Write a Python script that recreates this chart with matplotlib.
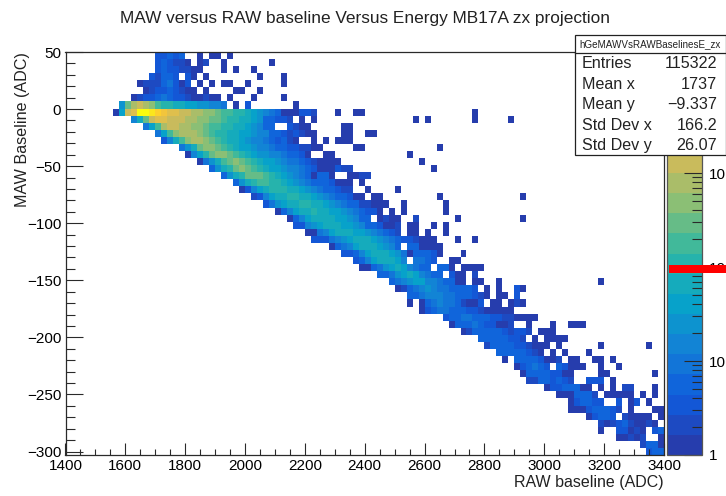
import numpy as np
import matplotlib
matplotlib.use('Agg')
import matplotlib.pyplot as plt
from matplotlib.colors import LinearSegmentedColormap, LogNorm
from matplotlib.lines import Line2D
from matplotlib.patches import Rectangle
from matplotlib.ticker import MultipleLocator, FixedLocator, NullFormatter

plt.rcParams['font.family'] = ['Liberation Sans', 'DejaVu Sans']

# --- Dados ---
TITULO = "MAW versus RAW baseline Versus Energy MB17A zx projection"
NOME_HIST = "hGeMAWVsRAWBaselinesE_zx"
STATS_NOMES = ["Entries", "Mean x", "Mean y", "Std Dev x", "Std Dev y"]
STATS_VALORES = ["115322", "1737", "\u22129.337", "166.2", "26.07"]

N_X = 100
N_Y = 57
X_MIN, X_MAX = 1400, 3400
Y_MIN, Y_MAX = -303, 50
Z_MIN, Z_MAX = 1, 19400

# contagem tipica de cada codigo (0-9, a-j): um nivel da paleta por codigo
CODIGOS = "0123456789abcdefghij"
CONTAGENS = [1, 2, 3, 6, 9, 15, 25, 40, 65, 110, 180, 300, 480, 800, 1300, 2100, 3400, 5600, 9200, 15000]

# uma lista por linha do histograma (de cima para baixo): (bin x inicial, codigos)
LINHAS = [
    [(15, '22323'), (22, '0'), (24, '00'), (27, '0')],
    [(15, '232110'), (22, '01'), (26, '0'), (34, '0')],
    [(15, '2322110'), (22, '0'), (26, '0'), (28, '0'), (31, '0')],
    [(14, '21332'), (20, '20'), (23, '0'), (32, '0'), (36, '0')],
    [(12, '0111342'), (19, '02'), (22, '0'), (24, '0'), (26, '00'), (30, '0'), (36, '0')],
    [(13, '0122321'), (20, '00'), (23, '0'), (28, '00'), (32, '0')],
    [(11, '012234322100100'), (27, '0'), (31, '0'), (36, '0')],
    [(9, '6bdedca99887766554'), (28, '0'), (30, '2'), (38, '0')],
    [(8, '07efjjihgffeeddccbaa99876543000221'), (45, '0'), (48, '00'), (68, '0')],
    [(11, '58beffeeeddccbba99887633221'), (39, '0'), (41, '0'), (58, '0'), (60, '0'), (68, '0'), (74, '0')],
    [(13, '47adeeddccbaa998876533'), (37, '2100'), (46, '00')],
    [(15, '47acdddcba99887765533212100'), (46, '00'), (50, '00')],
    [(16, '258acddcba9887655432310'), (41, '0'), (43, '0'), (45, '000')],
    [(19, '468bccba9877655433221100'), (48, '00'), (62, '0')],
    [(20, '0579bccba987665543320'), (43, '00'), (57, '0')],
    [(22, '0468abcba987765443210000'), (59, '0')],
    [(24, '3689bcba9877655432000211'), (61, '0')],
    [(26, '3689bbba98765430330'), (47, '0011')],
    [(28, '3689aa99876543332000'), (49, '0')],
    [(29, '0257899988765433211'), (50, '0'), (55, '0')],
    [(31, '1257889988765433200'), (51, '00'), (62, '0'), (76, '0')],
    [(33, '246788998876543311000'), (56, '0'), (63, '0')],
    [(35, '035788988776543220'), (54, '0'), (56, '0'), (63, '0')],
    [(37, '03578888776533'), (52, '0100'), (58, '1'), (65, '0'), (76, '0')],
    [(38, '225678887765332001'), (57, '00'), (61, '0'), (63, '0')],
    [(40, '0045788877654321'), (57, '00'), (60, '0'), (63, '0')],
    [(41, '222456788876543221000'), (65, '0'), (68, '0')],
    [(44, '034578887653'), (57, '330000')],
    [(46, '22357888764033320'), (66, '0')],
    [(48, '235788875'), (58, '4432'), (64, '00')],
    [(49, '003467875433'), (62, '330'), (66, '0000')],
    [(52, '33467875433'), (64, '200'), (68, '1')],
    [(54, '3456775543300'), (68, '00'), (72, '0'), (89, '0')],
    [(55, '01345654433332'), (70, '0'), (72, '0'), (75, '20')],
    [(57, '33455544333210'), (72, '00'), (75, '2')],
    [(57, '0'), (59, '03454431002'), (71, '00'), (74, '010')],
    [(59, '0234433322100000')],
    [(63, '2334433322110000')],
    [(64, '03334322001'), (77, '0'), (81, '0'), (84, '000')],
    [(66, '013333321221'), (79, '000')],
    [(69, '33333221'), (78, '0'), (80, '0000')],
    [(70, '13333221000'), (82, '0'), (89, '0'), (97, '0')],
    [(72, '33333210'), (81, '0'), (83, '0'), (87, '0')],
    [(73, '0'), (75, '33332001'), (84, '00'), (88, '00'), (91, '0')],
    [(75, '023432'), (82, '32000'), (89, '0'), (92, '0')],
    [(76, '033332200'), (89, '00'), (98, '0')],
    [(77, '11332321'), (87, '222'), (91, '0')],
    [(80, '02233300'), (89, '0'), (91, '0'), (93, '11'), (98, '0')],
    [(82, '0003331'), (90, '00000'), (96, '0'), (98, '0')],
    [(84, '023322'), (92, '2'), (94, '02'), (97, '0')],
    [(84, '000233321'), (94, '0'), (98, '00')],
    [(87, '02332'), (93, '10000'), (99, '0')],
    [(89, '1012310010')],
    [(89, '0'), (92, '22010'), (98, '23')],
    [(92, '00101'), (99, '0')],
    [(96, '1330')],
    [(97, '233')],
]

# --- Monta o histograma ---
contagens = np.zeros((N_Y, N_X))
for i, linha in enumerate(LINHAS):
    for inicio, codigos in linha:
        for j, c in enumerate(codigos):
            contagens[i, inicio + j] = CONTAGENS[CODIGOS.index(c)]
contagens = np.ma.masked_equal(contagens, 0)

bordas_x = np.linspace(X_MIN, X_MAX, N_X + 1)
bordas_y = np.linspace(Y_MAX, Y_MIN, N_Y + 1)

# Paleta kBird do ROOT, 20 niveis (inicio um pouco mais azul, como na figura)
bird = [(0.1500, 0.2400, 0.6800), (0.0592, 0.3599, 0.8684), (0.0780, 0.5041, 0.8385),
        (0.0232, 0.6419, 0.7914), (0.1802, 0.7178, 0.6425), (0.5301, 0.7492, 0.4662),
        (0.8186, 0.7328, 0.3499), (0.9956, 0.7862, 0.1968), (0.9764, 0.9832, 0.0539)]
cmap = LinearSegmentedColormap.from_list('bird', bird, N=20)
cmap.set_bad('white')
norm = LogNorm(vmin=Z_MIN, vmax=Z_MAX)

LARGURA, ALTURA = 726, 496
COR_EIXO = '#2a2a2a'


def caixa(x0, y0, x1, y1):
    # retangulo em pixels da imagem (y para baixo) -> fracao da figura
    return [x0 / LARGURA, 1 - y1 / ALTURA, (x1 - x0) / LARGURA, (y1 - y0) / ALTURA]


fig = plt.figure(figsize=(7.26, 4.96), dpi=100)
ax = fig.add_axes(caixa(65.5, 52, 664, 455))
malha = ax.pcolormesh(bordas_x, bordas_y, contagens, cmap=cmap, norm=norm, linewidth=0, antialiased=False)
ax.set_xlim(X_MIN, X_MAX)
ax.set_ylim(Y_MIN, Y_MAX)

ax.xaxis.set_major_locator(MultipleLocator(200))
ax.xaxis.set_minor_locator(MultipleLocator(50))
ax.yaxis.set_major_locator(MultipleLocator(50))
ax.yaxis.set_minor_locator(MultipleLocator(10))
ax.tick_params(axis='x', which='major', direction='in', length=8.6, width=0.8, labelsize=11, pad=3, color=COR_EIXO)
ax.tick_params(axis='x', which='minor', direction='in', length=4.3, width=0.8, color=COR_EIXO)
ax.tick_params(axis='y', which='major', direction='in', length=12.2, width=0.8, labelsize=11, pad=3, color=COR_EIXO)
ax.tick_params(axis='y', which='minor', direction='in', length=6.5, width=0.8, color=COR_EIXO)
for lado in ax.spines.values():
    lado.set_linewidth(0.9)
    lado.set_color(COR_EIXO)

fig.text(365 / LARGURA, 1 - 19 / ALTURA, TITULO, ha='center', va='center', fontsize=12.4, color='#222222')
fig.text(664 / LARGURA, 1 - 483 / ALTURA, "RAW baseline (ADC)", ha='right', va='center', fontsize=11.5, color='#222222')
fig.text(23 / LARGURA, 1 - 52 / ALTURA, "MAW Baseline (ADC)", ha='center', va='top', rotation=90, fontsize=11.6, color='#222222')

# --- Barra de cores ---
cax = fig.add_axes(caixa(667, 52, 702, 455))
barra = fig.colorbar(malha, cax=cax)
barra.outline.set_edgecolor('#555555')
barra.outline.set_linewidth(0.9)
cax.yaxis.set_major_locator(FixedLocator([1, 10, 100, 1000]))
cax.yaxis.set_minor_locator(FixedLocator([m * d for d in (1, 10, 100, 1000) for m in range(2, 10)]))
cax.yaxis.set_minor_formatter(NullFormatter())
cax.set_yticklabels(['1', '10', '10', '10'])
cax.tick_params(axis='y', which='major', direction='in', length=13, width=0.8, labelsize=11, pad=4.6, color=COR_EIXO)
cax.tick_params(axis='y', which='minor', direction='in', length=7, width=0.8, color=COR_EIXO)

# seta vermelha sobre a barra de cores
fig.add_artist(Rectangle((669 / LARGURA, 1 - 273 / ALTURA), 57 / LARGURA, 8 / ALTURA,
                         transform=fig.transFigure, color='#ff0000', linewidth=0, zorder=10))

# --- Caixa de estatisticas ---
fig.add_artist(Rectangle((575 / LARGURA, 1 - 155 / ALTURA), 150.5 / LARGURA, 120 / ALTURA,
                         transform=fig.transFigure, facecolor='white', edgecolor='#222222',
                         linewidth=0.9, zorder=11))
fig.add_artist(Line2D([575 / LARGURA, 725.5 / LARGURA], [1 - 53 / ALTURA, 1 - 53 / ALTURA],
                      transform=fig.transFigure, color='#222222', linewidth=0.9, zorder=12))
fig.text(650 / LARGURA, 1 - 44.5 / ALTURA, NOME_HIST, ha='center', va='center', fontsize=7.15, color='#222222', zorder=12)
for n, (nome, valor) in enumerate(zip(STATS_NOMES, STATS_VALORES)):
    y_linha = 1 - (64 + 20.4 * n) / ALTURA
    fig.text(582 / LARGURA, y_linha, nome, ha='left', va='center', fontsize=11.6, color='#222222', zorder=12)
    fig.text(717 / LARGURA, y_linha, valor, ha='right', va='center', fontsize=11.6, color='#222222', zorder=12)

fig.savefig('out.png', dpi=100)
